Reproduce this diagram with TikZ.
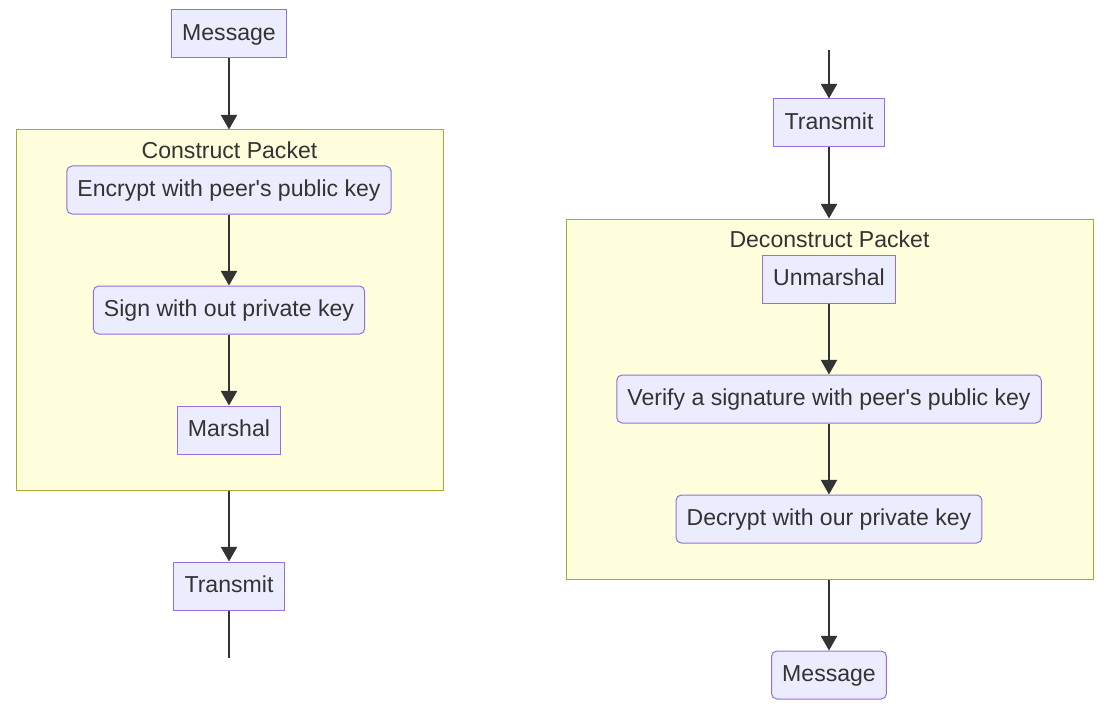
\documentclass[tikz,border=0pt]{standalone}
\usepackage{fontspec}
\setmainfont{Liberation Sans}
\usepackage{tikz}
\usetikzlibrary{arrows.meta}

\definecolor{nodefill}{HTML}{ECECFF}
\definecolor{nodeline}{HTML}{9370DB}
\definecolor{clusterfill}{HTML}{FFFFDE}
\definecolor{clusterline}{HTML}{AAAA33}
\definecolor{inkgray}{HTML}{333333}

\tikzset{
  stepnode/.style={draw=nodeline, fill=nodefill, line width=0.75pt, text=inkgray,
    minimum height=36pt, inner xsep=8pt, text height=14pt, text depth=4pt,
    font=\fontsize{17.3}{20}\selectfont},
  roundnode/.style={stepnode, rounded corners=4pt},
  cluster/.style={draw=clusterline, fill=clusterfill, line width=0.75pt},
  clustertitle/.style={text=inkgray, font=\fontsize{17.3}{20}\selectfont},
  flow/.style={draw=inkgray, line width=1.8pt, -{Triangle[width=12pt,length=11pt]}},
  plainflow/.style={draw=inkgray, line width=1.8pt}
}

\begin{document}
\begin{tikzpicture}[x=0.75pt, y=-0.75pt]
            \useasboundingbox (0,0) rectangle (1106,713);

            % packet boxes
            \node[cluster, minimum width=320.25pt, minimum height=270pt] (cpack) at (229.5,310) {};
            \node[clustertitle] (cpacktitle) at (229.5,150) {Construct Packet};
            \node[cluster, minimum width=395.25pt, minimum height=270pt] (dpack) at (829.5,399) {};
            \node[clustertitle] (dpacktitle) at (829.5,239) {Deconstruct Packet};

            % sending side
            \node[stepnode] (msgA) at (229,34) {Message};
            \node[roundnode] (encrypt) at (229,190) {Encrypt with peer\textquotesingle s public key};
            \node[roundnode] (sign) at (229,310) {Sign with out private key};
            \node[stepnode] (marshal) at (229,430) {Marshal};
            \node[stepnode] (sendA) at (229,586) {Transmit};
            \coordinate (outA) at (229,658);

            % receiving side
            \coordinate (inB) at (829,50);
            \node[stepnode] (sendB) at (829,123) {Transmit};
            \node[stepnode] (unmarshal) at (829,279) {Unmarshal};
            \node[roundnode] (verify) at (829,399) {Verify a signature with peer\textquotesingle s public key};
            \node[roundnode] (decrypt) at (829,519) {Decrypt with our private key};
            \node[roundnode] (msgB) at (829,675) {Message};

            \draw[flow] (msgA) -- (cpack.north -| msgA);
            \draw[flow] (encrypt) -- (sign);
            \draw[flow] (sign) -- (marshal);
            \draw[flow] (cpack.south -| sendA) -- (sendA);
            \draw[plainflow] (sendA) -- (outA);

            \draw[flow] (inB) -- (sendB);
            \draw[flow] (sendB) -- (dpack.north -| sendB);
            \draw[flow] (unmarshal) -- (verify);
            \draw[flow] (verify) -- (decrypt);
            \draw[flow] (dpack.south -| msgB) -- (msgB);
          \end{tikzpicture}
\end{document}
